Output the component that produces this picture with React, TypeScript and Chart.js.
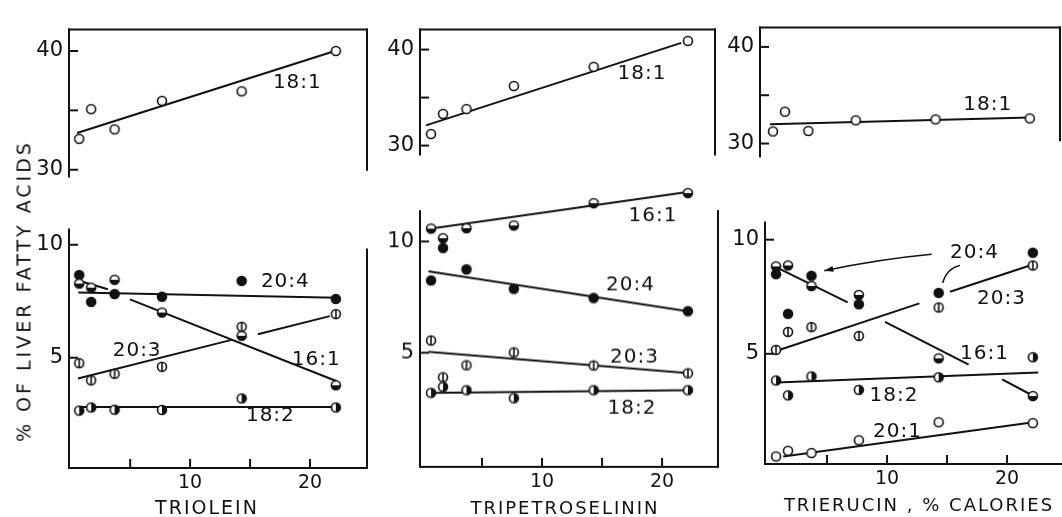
import { useEffect, useRef } from 'react';
import { Chart, registerables } from 'chart.js';

Chart.register(...registerables);

const FONT = '"DejaVu Sans", "Liberation Sans", sans-serif';
const INK = '#111111';

// Dietary fat level, % of calories (same levels in all three experiments)
const caloriePct = [0.75, 1.75, 3.7, 7.65, 14.3, 22.15];

// Axis tick values
const upperTicks = [30, 35, 40];
const upperTickLabels = [30, 40];
const lowerTicks = [5, 10];
const lowerTickLabels = [5, 10];
const doseTicks = [5, 10, 15, 20];
const doseTickLabels = [10, 20];

// ---- Triolein ----
const trioleinOleic = [32.6, 35.1, 33.4, 35.8, 36.6, 40.0];
const trioleinOleicFit = [[[0.57, 33.1], [22.07, 40.0]]];
const trioleinPalmitoleic = [8.28, 8.1, 8.45, 7.0, 5.97, 3.78];
const trioleinPalmitoleicFit = [[[0.65, 8.42], [3.15, 8.03]], [[4.98, 7.58], [22.23, 3.96]]];
const trioleinArachidonic = [8.66, 7.47, 7.82, 7.7, 8.4, 7.6];
const trioleinArachidonicFit = [[[0.68, 7.89], [22.26, 7.65]]];
const trioleinEicosatrienoic = [4.76, 4.0, 4.29, 4.6, 6.37, 6.93];
const trioleinEicosatrienoicFit = [[[0.65, 4.08], [13.46, 5.79]], [[15.65, 6.04], [21.65, 6.84]]];
const trioleinLinoleic = [2.66, 2.8, 2.7, 2.69, 3.2, 2.8];
const trioleinLinoleicFit = [[[0.65, 2.82], [22.23, 2.82]]];

// ---- Tripetroselinin ----
const petroOleic = [31.2, 33.3, 33.8, 36.2, 38.2, 40.9];
const petroOleicFit = [[[0.33, 32.1], [21.6, 40.7]]];
const petroPalmitoleic = [10.58, 10.15, 10.6, 10.72, 11.72, 12.18];
const petroPalmitoleicFit = [[[0.39, 10.55], [22.2, 12.23]]];
const petroArachidonic = [8.25, 9.71, 8.75, 7.87, 7.46, 6.87];
const petroArachidonicFit = [[[0.53, 8.66], [22.1, 6.87]]];
const petroEicosatrienoic = [5.55, 3.9, 4.44, 5.02, 4.43, 4.08];
const petroEicosatrienoicFit = [[[0.53, 5.04], [22.2, 4.08]]];
const petroLinoleic = [3.2, 3.47, 3.32, 2.96, 3.32, 3.32];
const petroLinoleicFit = [[[0.53, 3.2], [22.2, 3.32]]];

// ---- Trierucin ----
const erucinOleic = [31.25, 33.3, 31.3, 32.4, 32.5, 32.6];
const erucinOleicFit = [[[0.5, 32.0], [22.17, 32.69]]];
const erucinArachidonic = [8.49, 6.75, 8.42, 7.17, 7.67, 9.43];
const erucinPalmitoleic = [8.83, 8.87, 7.97, 7.58, 4.8, 3.15];
const erucinPalmitoleicFit = [[[0.75, 8.8], [6.72, 7.25]], [[9.83, 6.4], [16.8, 4.53]], [[19.6, 3.88], [22.2, 3.15]]];
const erucinEicosatrienoic = [5.17, 5.96, 6.17, 5.78, 7.03, 8.87];
const erucinEicosatrienoicFit = [[[0.75, 5.125], [12.7, 7.21]], [[15.25, 7.72], [22.1, 8.9]]];
const erucinLinoleic = [3.83, 3.18, 4.01, 3.42, 3.97, 4.85];
const erucinLinoleicFit = [[[0.78, 3.74], [22.6, 4.18]]];
const erucinEicosenoic = [0.5, 0.75, 0.65, 1.21, 2.0, 1.96];
const erucinEicosenoicFit = [[[1.35, 0.5], [22.2, 2.0]]];

type MarkerKind = 'open' | 'filled' | 'lowerHalf' | 'rightHalf' | 'bar';
type Series = { values: number[]; marker: MarkerKind; fit?: number[][][] };
type Note = { text: string; x: number; y: number };
type Arrow = { from: number[]; ctrl: number[]; to: number[]; head: boolean };
type PanelSpec = {
  area: { left: number; top: number; right: number; bottom: number };
  x: number[];
  y: number[];
  yTicks: number[];
  yLabels: number[];
  xTicks?: number[];
  xLabels?: number[];
  series: Series[];
  notes: Note[];
  arrows?: Arrow[];
  axisTop: number;
  top?: boolean;
  right?: number[];
};

function makeMarker(kind: MarkerKind): HTMLCanvasElement {
  const size = 14;
  const r = 4.5;
  const c = document.createElement('canvas');
  c.width = size;
  c.height = size;
  const g = c.getContext('2d')!;
  const cx = size / 2;
  const cy = size / 2;
  g.lineWidth = 1.6;
  g.strokeStyle = INK;
  g.fillStyle = '#fff';
  g.beginPath();
  g.arc(cx, cy, r, 0, Math.PI * 2);
  g.fill();
  g.fillStyle = INK;
  if (kind === 'filled') {
    g.beginPath();
    g.arc(cx, cy, r, 0, Math.PI * 2);
    g.fill();
  } else if (kind === 'lowerHalf') {
    g.beginPath();
    g.arc(cx, cy, r, 0, Math.PI);
    g.closePath();
    g.fill();
  } else if (kind === 'rightHalf') {
    g.beginPath();
    g.arc(cx, cy, r, -Math.PI / 2, Math.PI / 2);
    g.closePath();
    g.fill();
  } else if (kind === 'bar') {
    g.beginPath();
    g.moveTo(cx, cy - r);
    g.lineTo(cx, cy + r);
    g.stroke();
  }
  g.beginPath();
  g.arc(cx, cy, r, 0, Math.PI * 2);
  g.stroke();
  return c;
}

const PANELS: PanelSpec[] = [
  {
    area: { left: 69, top: 17, right: 367, bottom: 195 },
    x: [-0.1, 24.75],
    y: [29.44, 41.8],
    yTicks: upperTicks,
    yLabels: upperTickLabels,
    series: [{ values: trioleinOleic, marker: 'open', fit: trioleinOleicFit }],
    notes: [{ text: '18:1', x: 18.9, y: 37.3 }],
    axisTop: 41.8,
    top: true,
    right: [41.8, 30],
  },
  {
    area: { left: 69, top: 217, right: 367, bottom: 468 },
    x: [-0.1, 24.75],
    y: [0.12, 10.67],
    yTicks: lowerTicks,
    yLabels: lowerTickLabels,
    xTicks: doseTicks,
    xLabels: doseTickLabels,
    series: [
      { values: trioleinLinoleic, marker: 'rightHalf', fit: trioleinLinoleicFit },
      { values: trioleinEicosatrienoic, marker: 'bar', fit: trioleinEicosatrienoicFit },
      { values: trioleinPalmitoleic, marker: 'lowerHalf', fit: trioleinPalmitoleicFit },
      { values: trioleinArachidonic, marker: 'filled', fit: trioleinArachidonicFit },
    ],
    notes: [
      { text: '20:4', x: 17.9, y: 8.38 },
      { text: '20:3', x: 5.54, y: 5.29 },
      { text: '16:1', x: 20.48, y: 4.92 },
      { text: '18:2', x: 16.65, y: 2.44 },
    ],
    axisTop: 10.67,
    right: [9.79, 0.12],
  },
  {
    area: { left: 420, top: 17, right: 715, bottom: 173 },
    x: [-0.17, 24.41],
    y: [29.08, 42.08],
    yTicks: upperTicks,
    yLabels: upperTickLabels,
    series: [{ values: petroOleic, marker: 'open', fit: petroOleicFit }],
    notes: [{ text: '18:1', x: 18.29, y: 37.46 }],
    axisTop: 42.08,
    top: true,
    right: [42.08, 29.08],
  },
  {
    area: { left: 420, top: 171.4, right: 718, bottom: 466.7 },
    x: [-0.17, 24.66],
    y: [-0.13, 12.6],
    yTicks: lowerTicks,
    yLabels: lowerTickLabels,
    xTicks: doseTicks,
    xLabels: doseTickLabels,
    series: [
      { values: petroLinoleic, marker: 'rightHalf', fit: petroLinoleicFit },
      { values: petroEicosatrienoic, marker: 'bar', fit: petroEicosatrienoicFit },
      { values: petroPalmitoleic, marker: 'lowerHalf', fit: petroPalmitoleicFit },
      { values: petroArachidonic, marker: 'filled', fit: petroArachidonicFit },
    ],
    notes: [
      { text: '16:1', x: 19.2, y: 11.15 },
      { text: '20:4', x: 17.33, y: 8.03 },
      { text: '20:3', x: 17.66, y: 4.79 },
      { text: '18:2', x: 17.45, y: 2.51 },
    ],
    axisTop: 11.37,
    right: [11.37, -0.13],
  },
  {
    area: { left: 760, top: 15, right: 1060, bottom: 175 },
    x: [-0.33, 24.67],
    y: [28.67, 42],
    yTicks: upperTicks,
    yLabels: upperTickLabels,
    series: [{ values: erucinOleic, marker: 'open', fit: erucinOleicFit }],
    notes: [{ text: '18:1', x: 18.6, y: 34.04 }],
    axisTop: 42,
    top: true,
    right: [42, 30.33],
  },
  {
    area: { left: 765, top: 210, right: 1062, bottom: 464 },
    x: [-0.17, 24.58],
    y: [0.17, 10.75],
    yTicks: lowerTicks,
    yLabels: lowerTickLabels,
    xTicks: doseTicks,
    xLabels: doseTickLabels,
    series: [
      { values: erucinEicosenoic, marker: 'open', fit: erucinEicosenoicFit },
      { values: erucinLinoleic, marker: 'rightHalf', fit: erucinLinoleicFit },
      { values: erucinEicosatrienoic, marker: 'bar', fit: erucinEicosatrienoicFit },
      { values: erucinPalmitoleic, marker: 'lowerHalf', fit: erucinPalmitoleicFit },
      { values: erucinArachidonic, marker: 'filled' },
    ],
    notes: [
      { text: '20:4', x: 17.25, y: 9.44 },
      { text: '20:3', x: 19.5, y: 7.42 },
      { text: '16:1', x: 18.08, y: 4.98 },
      { text: '18:2', x: 10.54, y: 3.15 },
      { text: '20:1', x: 10.83, y: 1.6 },
    ],
    arrows: [
      { from: [13.72, 9.36], ctrl: [9.41, 9.15], to: [4.77, 8.64], head: true },
      { from: [16.08, 8.875], ctrl: [14.97, 8.74], to: [14.64, 8.11], head: false },
    ],
    axisTop: 10.75,
  },
];

const AXW = 56;
const PT = 6;
const PR = 6;
const XH = 44;

function framePlugin(spec: PanelSpec) {
  return {
    id: 'frame',
    afterDraw(chart: any) {
      const ctx: CanvasRenderingContext2D = chart.ctx;
      const xs = chart.scales.x;
      const ys = chart.scales.y;
      const a = chart.chartArea;
      const seg = (x1: number, y1: number, x2: number, y2: number) => {
        ctx.beginPath();
        ctx.moveTo(x1, y1);
        ctx.lineTo(x2, y2);
        ctx.stroke();
      };
      ctx.save();
      ctx.strokeStyle = INK;
      ctx.fillStyle = INK;
      ctx.lineWidth = 2;
      ctx.lineCap = 'square';
      // axes and frame
      seg(a.left, ys.getPixelForValue(spec.axisTop), a.left, a.bottom);
      if (spec.top) seg(a.left, a.top, a.right, a.top);
      if (spec.right) seg(a.right, ys.getPixelForValue(spec.right[0]), a.right, ys.getPixelForValue(spec.right[1]));
      if (spec.xTicks) seg(a.left, a.bottom, a.right, a.bottom);
      ctx.lineCap = 'butt';
      // inward tick marks
      spec.yTicks.forEach((v) => {
        const py = ys.getPixelForValue(v);
        seg(a.left, py, a.left + 9, py);
      });
      (spec.xTicks ?? []).forEach((v) => {
        const px = xs.getPixelForValue(v);
        seg(px, a.bottom, px, a.bottom - 9);
      });
      // curved pointers
      (spec.arrows ?? []).forEach((ar) => {
        const x0 = xs.getPixelForValue(ar.from[0]);
        const y0 = ys.getPixelForValue(ar.from[1]);
        const cx = xs.getPixelForValue(ar.ctrl[0]);
        const cy = ys.getPixelForValue(ar.ctrl[1]);
        const x1 = xs.getPixelForValue(ar.to[0]);
        const y1 = ys.getPixelForValue(ar.to[1]);
        ctx.lineWidth = 1.5;
        ctx.beginPath();
        ctx.moveTo(x0, y0);
        ctx.quadraticCurveTo(cx, cy, x1, y1);
        ctx.stroke();
        if (ar.head) {
          const ang = Math.atan2(y1 - cy, x1 - cx);
          const L = 9;
          const W = 3;
          ctx.beginPath();
          ctx.moveTo(x1, y1);
          ctx.lineTo(x1 - L * Math.cos(ang) - W * Math.sin(ang), y1 - L * Math.sin(ang) + W * Math.cos(ang));
          ctx.lineTo(x1 - L * Math.cos(ang) + W * Math.sin(ang), y1 - L * Math.sin(ang) - W * Math.cos(ang));
          ctx.closePath();
          ctx.fill();
        }
      });
      // series names
      ctx.font = `20px ${FONT}`;
      ctx.textAlign = 'center';
      ctx.textBaseline = 'middle';
      (ctx as any).letterSpacing = '1px';
      spec.notes.forEach((n) => {
        ctx.fillText(n.text, xs.getPixelForValue(n.x) + 0.5, ys.getPixelForValue(n.y));
      });
      ctx.restore();
    },
  };
}

function Panel({ spec }: { spec: PanelSpec }) {
  const ref = useRef<HTMLCanvasElement>(null);
  const xh = spec.xTicks ? XH : 0;
  const w = spec.area.right - spec.area.left + AXW + PR;
  const h = spec.area.bottom - spec.area.top + PT + xh;

  useEffect(() => {
    const canvas = ref.current;
    if (!canvas) return;
    const markers: Record<MarkerKind, HTMLCanvasElement> = {
      open: makeMarker('open'),
      filled: makeMarker('filled'),
      lowerHalf: makeMarker('lowerHalf'),
      rightHalf: makeMarker('rightHalf'),
      bar: makeMarker('bar'),
    };
    const datasets: any[] = [];
    spec.series.forEach((s) => {
      (s.fit ?? []).forEach((segment) => {
        datasets.push({
          type: 'line',
          data: segment.map(([x, y]) => ({ x, y })),
          borderColor: INK,
          borderWidth: 2,
          pointRadius: 0,
          showLine: true,
          fill: false,
          tension: 0,
          order: 2,
        });
      });
      datasets.push({
        type: 'scatter',
        data: caloriePct.map((x, i) => ({ x, y: s.values[i] })),
        pointStyle: markers[s.marker],
        pointRadius: 5,
        order: 1,
      });
    });

    const xTicks = spec.xTicks ?? [];
    const xLabels = spec.xLabels ?? [];
    const chart = new Chart(canvas, {
      type: 'scatter',
      data: { datasets },
      plugins: [framePlugin(spec)],
      options: {
        animation: false,
        responsive: false,
        maintainAspectRatio: false,
        layout: { padding: { top: PT, right: PR, left: 0, bottom: 0 } },
        plugins: { legend: { display: false }, tooltip: { enabled: false } },
        scales: {
          x: {
            type: 'linear',
            min: spec.x[0],
            max: spec.x[1],
            display: !!spec.xTicks,
            grid: { display: false, drawTicks: false, tickLength: 0 },
            border: { display: false },
            afterBuildTicks: (sc: any) => {
              sc.ticks = xTicks.map((v) => ({ value: v }));
            },
            afterFit: (sc: any) => {
              sc.height = xh;
            },
            ticks: {
              autoSkip: false,
              maxRotation: 0,
              padding: 4,
              color: INK,
              font: { family: FONT, size: 19 },
              callback: (v: any) => (xLabels.includes(Number(v)) ? String(v) : ''),
            },
          },
          y: {
            type: 'linear',
            min: spec.y[0],
            max: spec.y[1],
            grid: { display: false, drawTicks: false, tickLength: 0 },
            border: { display: false },
            afterBuildTicks: (sc: any) => {
              sc.ticks = spec.yTicks.map((v) => ({ value: v }));
            },
            afterFit: (sc: any) => {
              sc.width = AXW;
            },
            ticks: {
              autoSkip: false,
              padding: 6,
              color: INK,
              font: { family: FONT, size: 21 },
              callback: (v: any) => (spec.yLabels.includes(Number(v)) ? String(v) : ''),
            },
          },
        },
      } as any,
    });
    return () => chart.destroy();
  }, [spec]);

  return (
    <canvas
      ref={ref}
      width={w}
      height={h}
      style={{
        position: 'absolute',
        left: spec.area.left - AXW,
        top: spec.area.top - PT,
        width: w,
        height: h,
        display: 'block',
      }}
    />
  );
}

const captionStyle: React.CSSProperties = {
  position: 'absolute',
  fontFamily: FONT,
  fontSize: 18,
  letterSpacing: '2px',
  color: INK,
  whiteSpace: 'nowrap',
  transform: 'translate(-50%, -50%)',
  lineHeight: 1,
};

export default function App() {
  return (
    <div
      style={{
        position: 'fixed',
        left: 0,
        top: 0,
        width: 1062,
        height: 517,
        background: '#fff',
        overflow: 'hidden',
      }}
    >
      {PANELS.map((p, i) => (
        <Panel key={i} spec={p} />
      ))}
      <div
        style={{
          ...captionStyle,
          fontSize: 19,
          letterSpacing: '3px',
          left: 24,
          top: 291,
          transform: 'translate(-50%, -50%) rotate(-90deg)',
        }}
      >
        % OF LIVER FATTY ACIDS
      </div>
      <div style={{ ...captionStyle, fontSize: 19, left: 207, top: 507 }}>TRIOLEIN</div>
      <div style={{ ...captionStyle, left: 565, top: 508 }}>TRIPETROSELININ</div>
      <div style={{ ...captionStyle, left: 919, top: 505 }}>TRIERUCIN , % CALORIES</div>
    </div>
  );
}
